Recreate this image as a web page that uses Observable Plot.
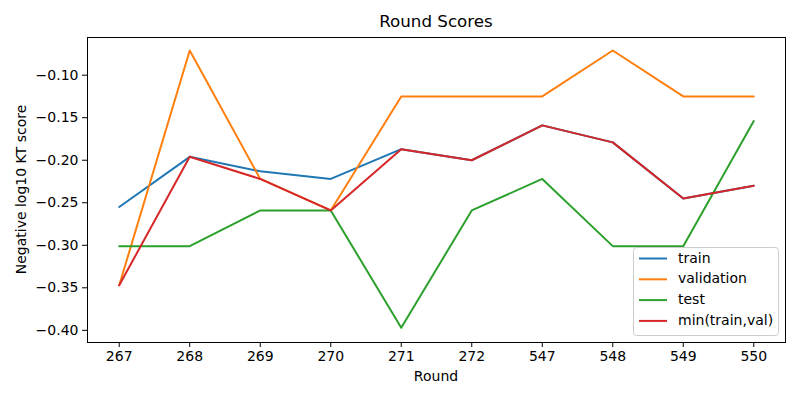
<!DOCTYPE html>
<html><head><meta charset="utf-8">
<script src="https://cdn.jsdelivr.net/npm/d3@7"></script>
<script src="https://cdn.jsdelivr.net/npm/@observablehq/plot@0.6"></script>
<style>
body{margin:0;background:#fff}
svg{font-family:"DejaVu Sans",sans-serif}
</style>
</head><body><div id="chart"></div>
<script>
const rounds = ["267","268","269","270","271","272","547","548","549","550"];
const train = [-0.255,-0.196,-0.213,-0.222,-0.187,-0.200,-0.159,-0.179,-0.245,-0.230];
const validation = [-0.347,-0.071,-0.222,-0.259,-0.125,-0.125,-0.125,-0.071,-0.125,-0.125];
const test = [-0.301,-0.301,-0.259,-0.259,-0.397,-0.259,-0.222,-0.301,-0.301,-0.154];
const minTrainVal = [-0.347,-0.196,-0.222,-0.259,-0.187,-0.200,-0.159,-0.179,-0.245,-0.230];
const seriesNames = ["train","validation","test","min(train,val)"];
const seriesValues = [train, validation, test, minTrainVal];
const seriesColors = ["#1f77b4","#ff7f0e","#2ca02c","#d62728"];
const yTicks = [-0.40,-0.35,-0.30,-0.25,-0.20,-0.15,-0.10];
const titleText = "Round Scores";
const xLabel = "Round";
const yLabel = "Negative log10 KT score";

const data = seriesNames.flatMap((s,i) => rounds.map((r,j) => ({series:s, round:r, value:seriesValues[i][j]})));

const ml=87, mr=15, mt=37, mb=58, W=800, H=400;
const chart = Plot.plot({
  width:W, height:H, marginLeft:ml, marginRight:mr, marginTop:mt, marginBottom:mb,
  style:{fontFamily:"DejaVu Sans", fontSize:"14px", background:"white", color:"black", overflow:"visible"},
  x:{type:"point", domain:rounds, padding:0.45, round:false, label:null},
  y:{domain:[-0.4143,-0.0557], label:null},
  color:{domain:seriesNames, range:seriesColors},
  marks:[
    Plot.line(data,{x:"round", y:"value", z:"series", stroke:"series", strokeWidth:2}),
    Plot.frame({stroke:"black", strokeWidth:1}),
    Plot.axisX({ticks:rounds, tickSize:5, tickPadding:4, label:null, fontSize:14}),
    Plot.axisY({ticks:yTicks, tickFormat:d3.format(".2f"), tickSize:5, tickPadding:4, label:null, fontSize:14})
  ]
});
document.getElementById("chart").appendChild(chart);
const svg = d3.select(chart);
const cx = ml + (W-ml-mr)/2;
svg.append("text").attr("x",cx).attr("y",22).attr("text-anchor","middle").attr("dominant-baseline","middle")
  .attr("font-size","16.7px").attr("fill","black").text(titleText);
svg.append("text").attr("x",cx).attr("y",377).attr("text-anchor","middle").attr("dominant-baseline","middle")
  .attr("font-size","14px").attr("fill","black").text(xLabel);
svg.append("text").attr("transform",`translate(22,${mt+(H-mt-mb)/2}) rotate(-90)`).attr("text-anchor","middle")
  .attr("dominant-baseline","middle").attr("font-size","14px").attr("fill","black").text(yLabel);

const lg = svg.append("g");
lg.append("rect").attr("x",633.5).attr("y",247.5).attr("width",145).attr("height",88).attr("rx",3)
  .attr("fill","white").attr("fill-opacity",0.8).attr("stroke","#cccccc");
seriesNames.forEach((s,i) => {
  const yy = 258.5 + i*20.8;
  lg.append("line").attr("x1",639).attr("x2",667).attr("y1",yy).attr("y2",yy).attr("stroke",seriesColors[i]).attr("stroke-width",2);
  lg.append("text").attr("x",678).attr("y",yy).attr("text-anchor","start").attr("dominant-baseline","middle")
    .attr("font-size","14px").attr("fill","black").text(s);
});
</script>
</body></html>
